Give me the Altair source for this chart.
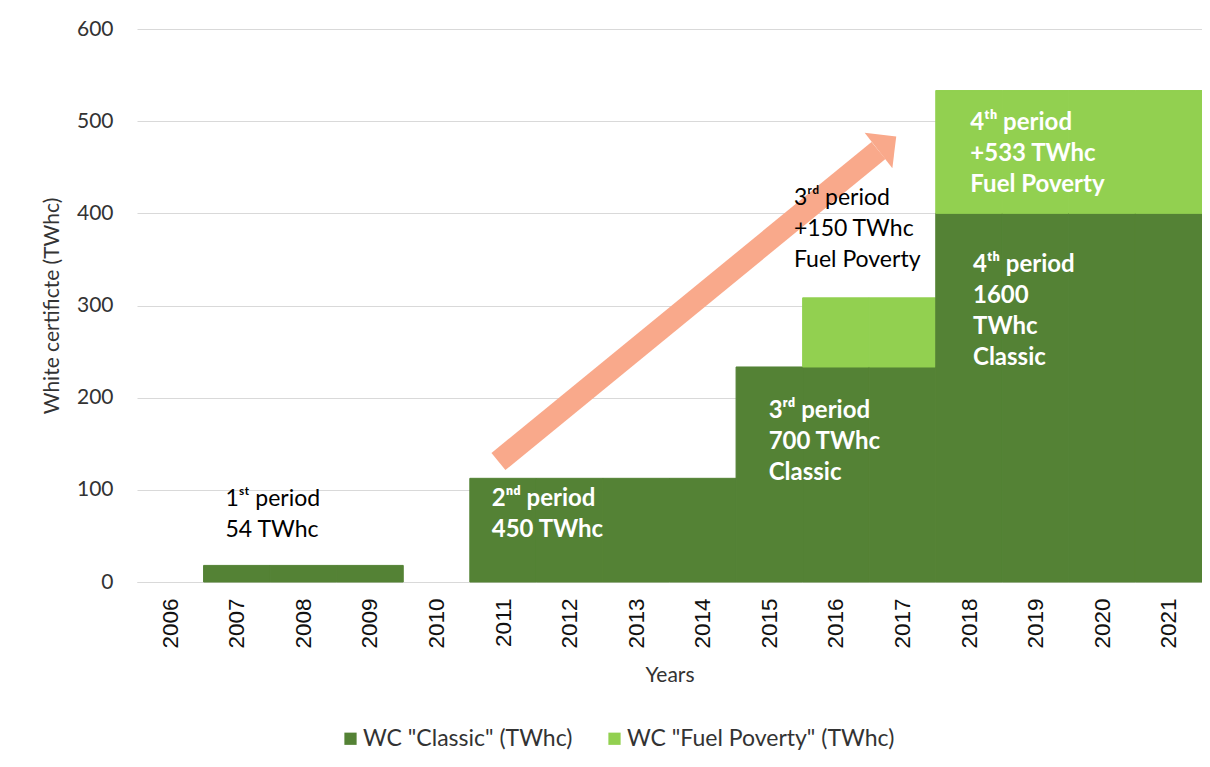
import altair as alt
import pandas as pd

years = list(range(2006, 2022))
classic = [0, 18, 18, 18, 0, 112.5, 112.5, 112.5, 112.5, 233.3, 233.3, 233.3, 400, 400, 400, 400]
fuel = [0, 0, 0, 0, 0, 0, 0, 0, 0, 0, 75, 75, 133.25, 133.25, 133.25, 133.25]
series = ['WC "Classic" (TWhc)', 'WC "Fuel Poverty" (TWhc)']
colors = ["#548235", "#92D050"]

# annotations (text lines, anchor year, anchor value, weight)
ann_text = [
    ["1ˢᵗ period", "54 TWhc"],
    ["2ⁿᵈ period", "450 TWhc"],
    ["3ʳᵈ period", "700 TWhc", "Classic"],
    ["3ʳᵈ period", "+150 TWhc", "Fuel Poverty"],
    ["4ᵗʰ period", "1600", "TWhc", "Classic"],
    ["4ᵗʰ period", "+533 TWhc", "Fuel Poverty"],
]
ann_x = [2006.83, 2010.83, 2014.99, 2015.37, 2018.06, 2018.02]
ann_y = [82.5, 82.5, 177.9, 409.0, 336.3, 490.4]
ann_bold = [False, True, True, False, True, True]

# arrow from tail to head base
arrow_x = [2010.93, 2016.64]
arrow_y = [130.7, 468.2]

rows = []
for yr, c, f in zip(years, classic, fuel):
    if c > 0:
        rows.append({"x0": yr - 0.5, "x1": yr + 0.5, "y0": 0, "y1": c, "s": series[0]})
    if f > 0:
        rows.append({"x0": yr - 0.5, "x1": yr + 0.5, "y0": c, "y1": c + f, "s": series[1]})
bars_df = pd.DataFrame(rows)

xscale = alt.Scale(domain=[2005.5, 2021.5], nice=False, zero=False)
yscale = alt.Scale(domain=[0, 600], nice=False)
cscale = alt.Scale(domain=series, range=colors)

bars = alt.Chart(bars_df).mark_rect(strokeWidth=1).encode(
    x=alt.X("x0:Q", scale=xscale,
            axis=alt.Axis(title="Years", values=years, format="d", labelAngle=-90,
                          grid=False, ticks=False, domain=True, domainColor="#d9d9d9",
                          labelFont="Liberation Sans", labelFontSize=22.5, labelColor="#111111",
                          labelPadding=16, labelFlush=False,
                          titleFont="Lato", titleFontSize=21, titleFontWeight="normal",
                          titleColor="#333333", titlePadding=16)),
    x2="x1:Q",
    y=alt.Y("y0:Q", scale=yscale,
            axis=alt.Axis(title="White certificte (TWhc)", values=list(range(0, 601, 100)),
                          grid=True, gridColor="#d9d9d9", ticks=False, domain=False,
                          labelFont="Lato", labelFontSize=21, labelColor="#333333",
                          labelPadding=24,
                          titleFont="Lato", titleFontSize=21, titleFontWeight="normal",
                          titleColor="#333333", titlePadding=14)),
    y2="y1:Q",
    color=alt.Color("s:N", scale=cscale,
                    legend=alt.Legend(title=None, orient="none", legendX=202, legendY=698,
                                      direction="horizontal", symbolType="square",
                                      symbolSize=150, symbolStrokeWidth=0,
                                      labelFont="Lato", labelFontSize=23, labelLimit=0,
                                      labelColor="#333333", columnPadding=30,
                                      padding=0, labelOffset=1)),
    stroke=alt.Stroke("s:N", scale=cscale, legend=None),
)

arrow_df = pd.DataFrame({"x": arrow_x, "y": arrow_y})
arrow_line = alt.Chart(arrow_df).mark_line(
    color="#F9A98B", strokeWidth=22, strokeCap="butt"
).encode(x="x:Q", y="y:Q")

head_df = pd.DataFrame({"x": [arrow_x[1]], "y": [arrow_y[1]]})
arrow_head = alt.Chart(head_df).mark_point(
    shape="M0,-1L1,0L-1,0Z", filled=True, color="#F9A98B", opacity=1,
    size=2025, angle=52, strokeWidth=0
).encode(x="x:Q", y="y:Q")

ann_df = pd.DataFrame({"t": ann_text, "x": ann_x, "y": ann_y, "b": ann_bold})

def ann_layer(bold):
    d = ann_df[ann_df["b"] == bold]
    return alt.Chart(d).mark_text(
        align="left", baseline="alphabetic", font="Lato", fontSize=24 if bold else 23,
        lineHeight=31, fontWeight="bold" if bold else "normal",
        color="#ffffff" if bold else "#000000"
    ).encode(x="x:Q", y="y:Q", text="t")

chart = alt.layer(bars, arrow_line, arrow_head, ann_layer(True), ann_layer(False)).properties(
    width=1065, height=553,
    autosize=alt.AutoSizeParams(type="none"),
    padding={"left": 129, "top": 21, "right": 0, "bottom": 178},
).configure_view(stroke=None)

chart.save("out.html", embed_options={"renderer": "svg", "actions": False})
